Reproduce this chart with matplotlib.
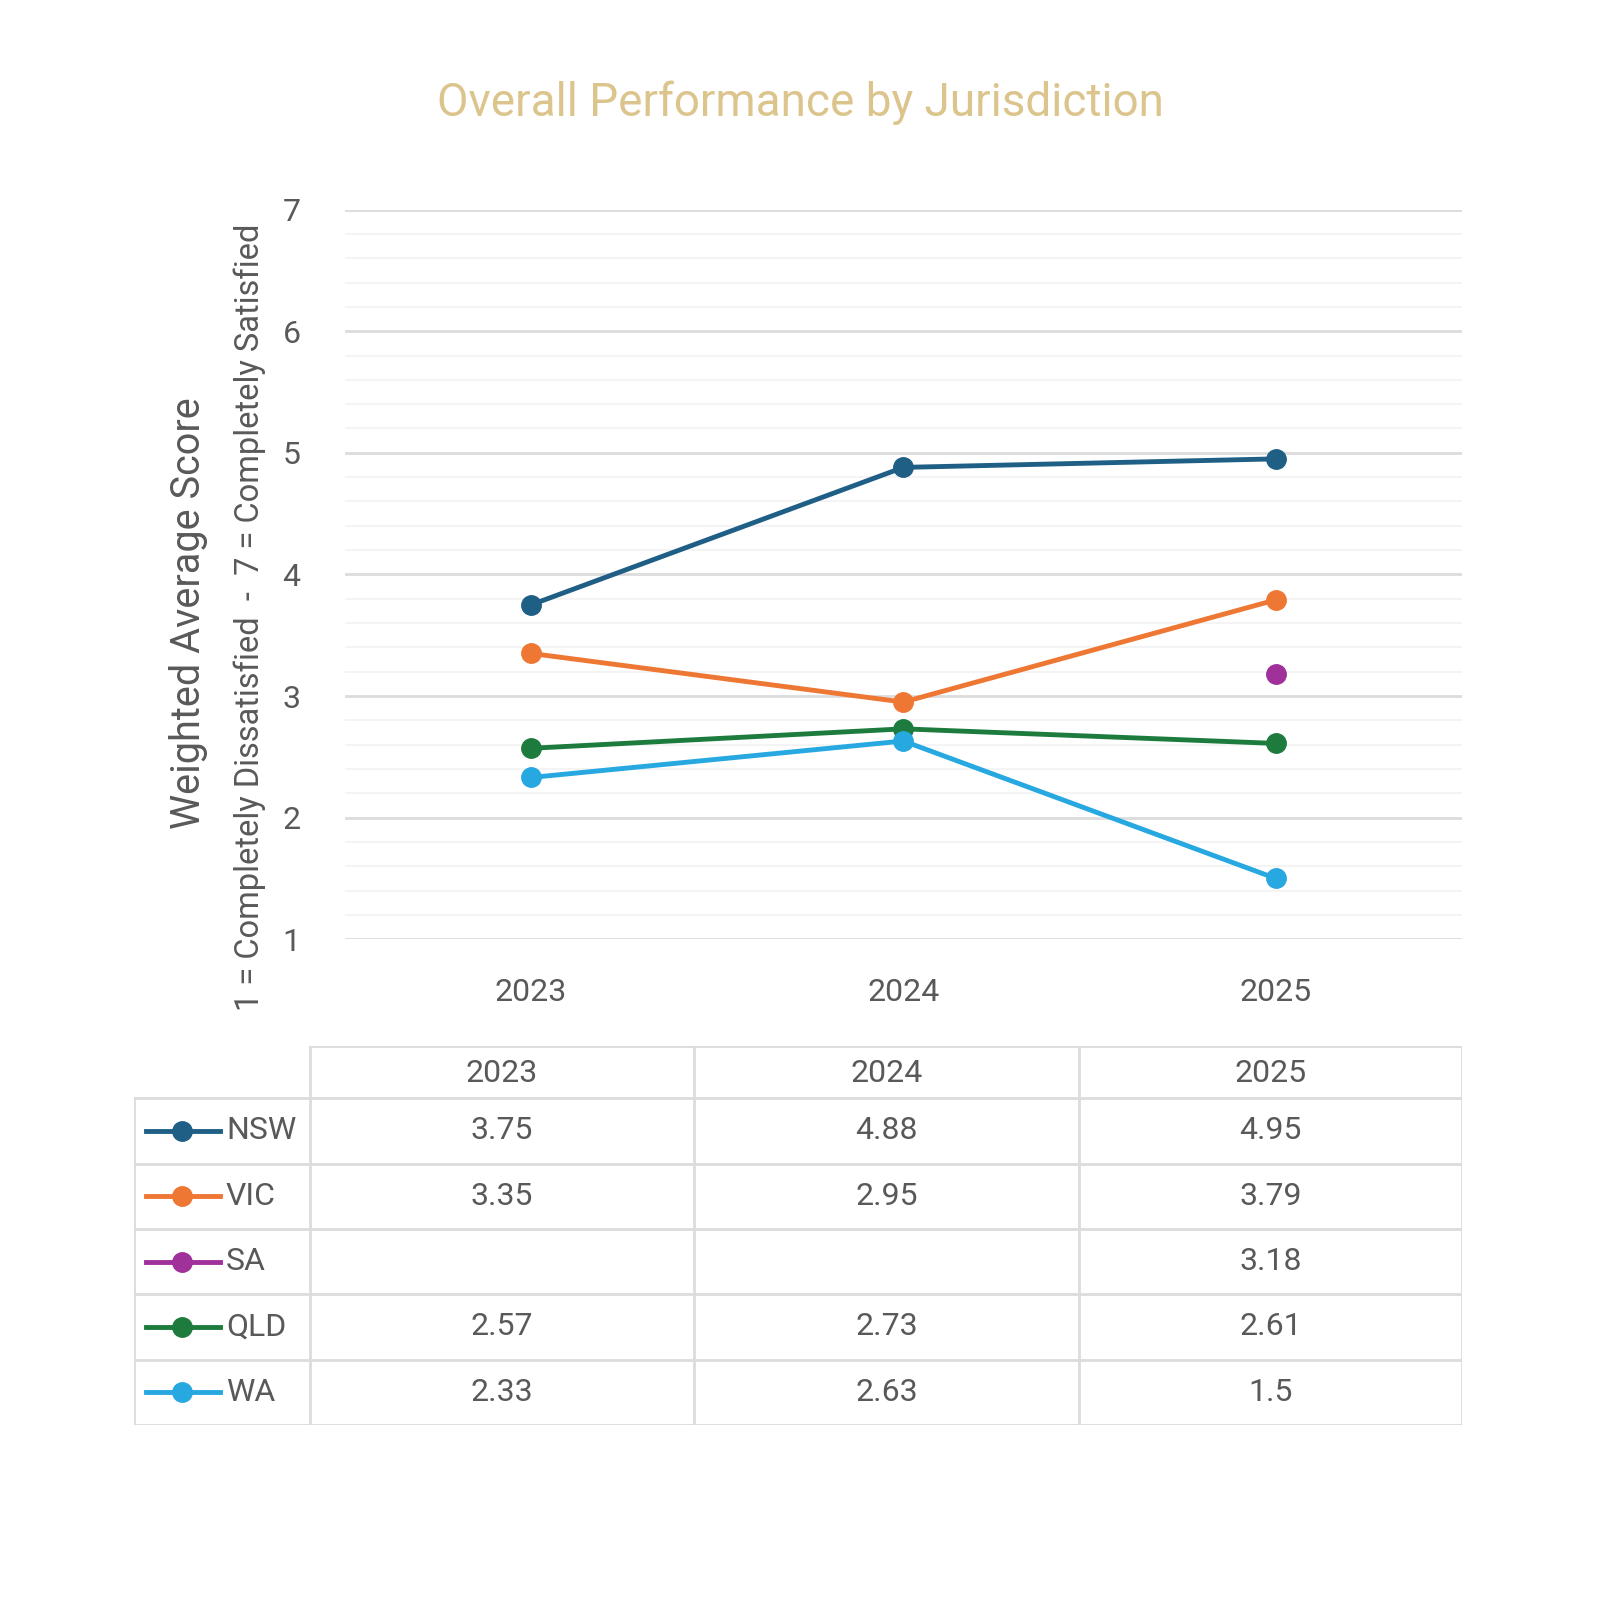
import matplotlib
matplotlib.use('Agg')
import matplotlib.pyplot as plt
import numpy as np
from matplotlib.ticker import MultipleLocator

plt.rcParams['font.family'] = ['Roboto', 'DejaVu Sans']

years = ['2023', '2024', '2025']
regions = ['NSW', 'VIC', 'SA', 'QLD', 'WA']
nsw = [3.75, 4.88, 4.95]
vic = [3.35, 2.95, 3.79]
sa = [np.nan, np.nan, 3.18]
qld = [2.57, 2.73, 2.61]
wa = [2.33, 2.63, 1.5]
colors = ['#1f5f86', '#ee7734', '#a0309a', '#1e7b3e', '#27a8e0']

series = [nsw, vic, sa, qld, wa]
grey = '#595959'

fig = plt.figure(figsize=(16, 16), dpi=100)

#main line chart
ax = fig.add_axes([0.2156, 0.413, 0.698, 0.456])
x = np.arange(len(years))
for vals, c in zip(series, colors):
    ax.plot(x, vals, color=c, linewidth=3.5, marker='o', markersize=14, zorder=3)

ax.set_xlim(-0.5, 2.5)
ax.set_ylim(1, 7)
ax.set_xticks(x)
ax.set_xticklabels(years)
ax.yaxis.set_major_locator(MultipleLocator(1))
ax.yaxis.set_minor_locator(MultipleLocator(0.2))
ax.grid(axis='y', which='major', color='#dcdcdc', linewidth=2)
ax.grid(axis='y', which='minor', color='#f2f2f2', linewidth=1.2)
ax.tick_params(axis='both', which='both', length=0, labelsize=23, labelcolor=grey)
ax.tick_params(axis='x', pad=28)
ax.tick_params(axis='y', pad=32)
for s in ax.spines.values():
    s.set_visible(False)
ax.set_axisbelow(True)

fig.text(0.118, 0.617, 'Weighted Average Score', rotation=90, ha='center', va='center',
         fontsize=28.5, color=grey)
fig.text(0.156, 0.614, '1 = Completely Dissatisfied  -  7 = Completely Satisfied', rotation=90,
         ha='center', va='center', fontsize=23.5, color=grey)

fig.text(0.5, 0.936, 'Overall Performance by Jurisdiction', ha='center', va='center',
         fontsize=33, color='#dcc58c')

#data table underneath
tx = fig.add_axes([134/1600, 1 - 1425/1600, (1462 - 134)/1600, (1425 - 1046)/1600])
tx.set_xlim(0, 1328)
tx.set_ylim(len(regions) + 0.8, 0)
tx.axis('off')
col_edges = [0, 176, 560, 945, 1328]
line_c = '#dcdcdc'
# header row
tx.plot([col_edges[1], col_edges[-1]], [0, 0], color=line_c, lw=2)
for e in col_edges[1:]:
    tx.plot([e, e], [0, len(regions) + 0.8], color=line_c, lw=2)
tx.plot([0, 0], [0.8, len(regions) + 0.8], color=line_c, lw=2)
for r in range(len(regions) + 1):
    tx.plot([0, col_edges[-1]], [0.8 + r, 0.8 + r], color=line_c, lw=2)
for j, yr in enumerate(years):
    cx = (col_edges[j + 1] + col_edges[j + 2]) / 2
    tx.text(cx, 0.42, yr, ha='center', va='center', fontsize=23, color=grey)
for i, (name, vals, c) in enumerate(zip(regions, series, colors)):
    cy = 1.3 + i
    tx.plot([12, 86], [cy, cy], color=c, lw=3.5)
    tx.plot([48], [cy], marker='o', color=c, markersize=14)
    tx.text(92, cy, name, ha='left', va='center', fontsize=23, color=grey)
    for j, v in enumerate(vals):
        if np.isnan(v):
            continue
        cx = (col_edges[j + 1] + col_edges[j + 2]) / 2
        tx.text(cx, cy, f'{v:g}', ha='center', va='center', fontsize=23, color=grey)

fig.savefig('out.png', dpi=100, facecolor='white')
